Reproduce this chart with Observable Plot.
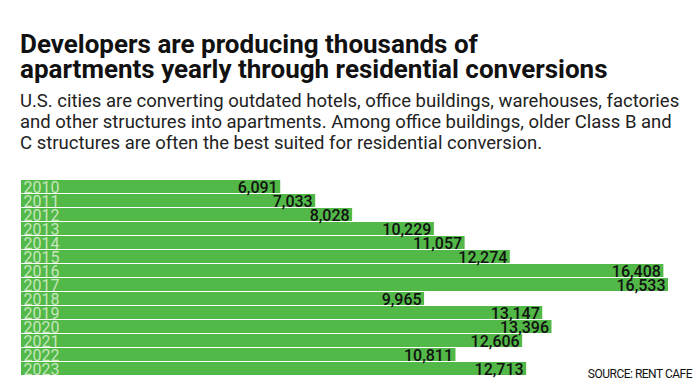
<!DOCTYPE html>
<html>
<head>
<meta charset="utf-8">
<script src="https://cdn.jsdelivr.net/npm/d3@7"></script>
<script src="https://cdn.jsdelivr.net/npm/@observablehq/plot@0.6"></script>
<style>
  html, body { margin: 0; padding: 0; background: #fff; }
  #wrap { position: relative; width: 696px; height: 384px; overflow: hidden; font-family: Roboto, "Liberation Sans", sans-serif; }
  #title { position: absolute; left: 20px; top: 31.5px; font-size: 26px; line-height: 25px; font-weight: 700; color: #111; letter-spacing: 0px; white-space: nowrap; }
  #subtitle { position: absolute; left: 20px; top: 91px; font-size: 18.5px; line-height: 21px; font-weight: 400; color: #222; letter-spacing: 0px; white-space: nowrap; }
  #chart { position: absolute; left: 0; top: 160px; }
  #source { position: absolute; right: 4px; top: 367px; font-size: 12px; line-height: 14px; color: #111; letter-spacing: -0.5px; white-space: nowrap; }
</style>
</head>
<body>
<div id="wrap">
  <div id="title">Developers are producing thousands of<br>apartments yearly through residential conversions</div>
  <div id="subtitle">U.S. cities are converting outdated hotels, office buildings, warehouses, factories<br>and other structures into apartments. Among office buildings, older Class B and<br>C structures are often the best suited for residential conversion.</div>
  <div id="chart"></div>
  <div id="source"></div>
</div>
<script>
const years = ["2010","2011","2012","2013","2014","2015","2016","2017","2018","2019","2020","2021","2022","2023"];
const units = [6091, 7033, 8028, 10229, 11057, 12274, 16408, 16533, 9965, 13147, 13396, 12606, 10811, 12713];
const source = "SOURCE: RENT CAFE";

const data = years.map((y, i) => ({year: y, units: units[i]}));
const fmt = d3.format(",");

const chart = Plot.plot({
  width: 696,
  height: 224,
  marginLeft: 54,
  marginRight: 28,
  marginTop: 14,
  marginBottom: 4,
  style: {fontFamily: "Roboto, sans-serif", background: "transparent"},
  x: {domain: [0, d3.max(units)], axis: null},
  y: {domain: years, paddingInner: 0.09, paddingOuter: 0, axis: null},
  marks: [
    Plot.barX(data, {x: "units", y: "year", fill: "#52b848", insetLeft: -33}),
    Plot.axisY({anchor: "left", label: null, tickSize: 0, textAnchor: "start", dx: -22, fill: "#c6e6bc", fontSize: 16, dy: 0.5}),
    Plot.text(data, {x: "units", y: "year", text: d => fmt(d.units), textAnchor: "end", dx: -3, dy: 0.5, fill: "#111", fontSize: 16, fontWeight: 500, letterSpacing: -0.2})
  ]
});
document.getElementById("chart").appendChild(chart);
document.getElementById("source").textContent = source;
</script>
</body>
</html>
